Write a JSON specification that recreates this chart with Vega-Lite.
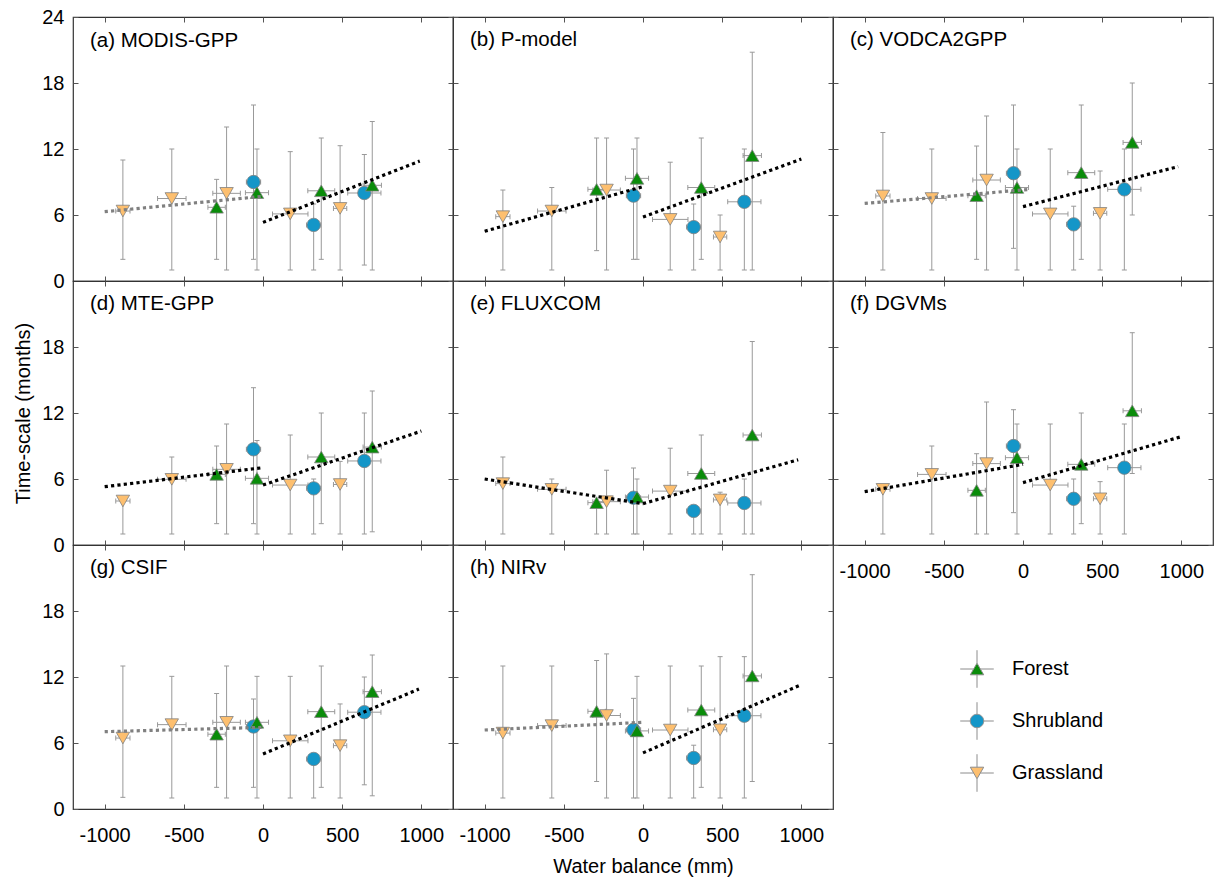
{
  "$schema": "https://vega.github.io/schema/vega-lite/v6.json",
  "padding": {"top": 6, "left": 13, "right": 0, "bottom": 0},
  "background": "white",
  "columns": 3,
  "spacing": 0,
  "bounds": "flush",
  "resolve": {"scale": {"shape": "independent", "fill": "independent"}},
  "config": {
    "font": "Liberation Sans",
    "view": {"stroke": "#333333", "strokeWidth": 1.2},
    "axis": {"domain": false, "grid": false, "tickColor": "#555555", "tickSize": -5, "tickWidth": 1, "labelFontSize": 20, "labelColor": "#000000", "titleFontSize": 20, "titleFontWeight": "normal", "titleColor": "#000000", "labelExpr": "datum.value + ''"},
    "title": {"anchor": "start", "frame": "group", "fontSize": 20.5, "fontWeight": "normal", "color": "#000000", "offset": -34, "dx": 17, "baseline": "alphabetic"}
  },
  "datasets": {
    "pts": [
      {"p": "a", "type": "Shrubland", "x": -60, "xlo": -105, "xhi": -15, "y": 9.0, "ylo": 1.97, "yhi": 16.0},
      {"p": "a", "type": "Shrubland", "x": 320, "xlo": 275, "xhi": 365, "y": 5.1, "ylo": 1.0, "yhi": 7.0},
      {"p": "a", "type": "Shrubland", "x": 640, "xlo": 535, "xhi": 745, "y": 8.0, "ylo": 1.45, "yhi": 11.5},
      {"p": "a", "type": "Forest", "x": -293, "xlo": -348, "xhi": -238, "y": 6.7, "ylo": 1.97, "yhi": 9.24},
      {"p": "a", "type": "Forest", "x": -38, "xlo": -111, "xhi": 35, "y": 8.03, "ylo": 1.0, "yhi": 12.0},
      {"p": "a", "type": "Forest", "x": 368, "xlo": 283, "xhi": 453, "y": 8.2, "ylo": 1.97, "yhi": 13.0},
      {"p": "a", "type": "Forest", "x": 690, "xlo": 632, "xhi": 748, "y": 8.7, "ylo": 1.0, "yhi": 14.5},
      {"p": "a", "type": "Grassland", "x": -885, "xlo": -930, "xhi": -840, "y": 6.36, "ylo": 1.97, "yhi": 11.0},
      {"p": "a", "type": "Grassland", "x": -576, "xlo": -666, "xhi": -486, "y": 7.5, "ylo": 1.0, "yhi": 12.0},
      {"p": "a", "type": "Grassland", "x": -230, "xlo": -317, "xhi": -143, "y": 7.97, "ylo": 1.0, "yhi": 14.0},
      {"p": "a", "type": "Grassland", "x": 172, "xlo": 60, "xhi": 284, "y": 6.1, "ylo": 1.0, "yhi": 11.76},
      {"p": "a", "type": "Grassland", "x": 487, "xlo": 445, "xhi": 529, "y": 6.6, "ylo": 1.0, "yhi": 12.3},

      {"p": "b", "type": "Shrubland", "x": -60, "xlo": -105, "xhi": -15, "y": 7.76, "ylo": 1.97, "yhi": 12.0},
      {"p": "b", "type": "Shrubland", "x": 320, "xlo": 275, "xhi": 365, "y": 4.9, "ylo": 1.0, "yhi": 7.0},
      {"p": "b", "type": "Shrubland", "x": 640, "xlo": 535, "xhi": 745, "y": 7.2, "ylo": 1.0, "yhi": 12.0},
      {"p": "b", "type": "Forest", "x": -293, "xlo": -348, "xhi": -238, "y": 8.33, "ylo": 2.76, "yhi": 13.0},
      {"p": "b", "type": "Forest", "x": -38, "xlo": -111, "xhi": 35, "y": 9.33, "ylo": 1.97, "yhi": 13.0},
      {"p": "b", "type": "Forest", "x": 368, "xlo": 283, "xhi": 453, "y": 8.5, "ylo": 1.97, "yhi": 13.0},
      {"p": "b", "type": "Forest", "x": 690, "xlo": 632, "xhi": 748, "y": 11.4, "ylo": 1.0, "yhi": 20.8},
      {"p": "b", "type": "Grassland", "x": -885, "xlo": -930, "xhi": -840, "y": 5.85, "ylo": 1.0, "yhi": 8.27},
      {"p": "b", "type": "Grassland", "x": -576, "xlo": -666, "xhi": -486, "y": 6.36, "ylo": 1.0, "yhi": 8.5},
      {"p": "b", "type": "Grassland", "x": -230, "xlo": -317, "xhi": -143, "y": 8.27, "ylo": 1.0, "yhi": 13.0},
      {"p": "b", "type": "Grassland", "x": 172, "xlo": 60, "xhi": 284, "y": 5.6, "ylo": 1.0, "yhi": 10.8},
      {"p": "b", "type": "Grassland", "x": 487, "xlo": 445, "xhi": 529, "y": 4.0, "ylo": 1.0, "yhi": 6.0},

      {"p": "c", "type": "Shrubland", "x": -60, "xlo": -105, "xhi": -15, "y": 9.8, "ylo": 2.97, "yhi": 16.0},
      {"p": "c", "type": "Shrubland", "x": 320, "xlo": 275, "xhi": 365, "y": 5.15, "ylo": 1.0, "yhi": 6.8},
      {"p": "c", "type": "Shrubland", "x": 640, "xlo": 535, "xhi": 745, "y": 8.33, "ylo": 1.0, "yhi": 12.0},
      {"p": "c", "type": "Forest", "x": -293, "xlo": -348, "xhi": -238, "y": 7.76, "ylo": 1.97, "yhi": 12.27},
      {"p": "c", "type": "Forest", "x": -38, "xlo": -111, "xhi": 35, "y": 8.5, "ylo": 1.0, "yhi": 12.0},
      {"p": "c", "type": "Forest", "x": 368, "xlo": 283, "xhi": 453, "y": 9.85, "ylo": 1.97, "yhi": 16.0},
      {"p": "c", "type": "Forest", "x": 690, "xlo": 632, "xhi": 748, "y": 12.6, "ylo": 6.0, "yhi": 18.0},
      {"p": "c", "type": "Grassland", "x": -885, "xlo": -930, "xhi": -840, "y": 7.73, "ylo": 1.0, "yhi": 13.5},
      {"p": "c", "type": "Grassland", "x": -576, "xlo": -666, "xhi": -486, "y": 7.5, "ylo": 1.0, "yhi": 12.0},
      {"p": "c", "type": "Grassland", "x": -230, "xlo": -317, "xhi": -143, "y": 9.18, "ylo": 1.0, "yhi": 15.0},
      {"p": "c", "type": "Grassland", "x": 172, "xlo": 60, "xhi": 284, "y": 6.1, "ylo": 1.0, "yhi": 12.0},
      {"p": "c", "type": "Grassland", "x": 487, "xlo": 445, "xhi": 529, "y": 6.15, "ylo": 1.0, "yhi": 10.0},

      {"p": "d", "type": "Shrubland", "x": -60, "xlo": -105, "xhi": -15, "y": 8.7, "ylo": 1.94, "yhi": 14.3},
      {"p": "d", "type": "Shrubland", "x": 320, "xlo": 275, "xhi": 365, "y": 5.15, "ylo": 1.0, "yhi": 6.0},
      {"p": "d", "type": "Shrubland", "x": 640, "xlo": 535, "xhi": 745, "y": 7.64, "ylo": 1.0, "yhi": 12.0},
      {"p": "d", "type": "Forest", "x": -293, "xlo": -348, "xhi": -238, "y": 6.42, "ylo": 1.94, "yhi": 9.0},
      {"p": "d", "type": "Forest", "x": -38, "xlo": -111, "xhi": 35, "y": 6.06, "ylo": 1.0, "yhi": 9.5},
      {"p": "d", "type": "Forest", "x": 368, "xlo": 283, "xhi": 453, "y": 8.0, "ylo": 1.94, "yhi": 12.0},
      {"p": "d", "type": "Forest", "x": 690, "xlo": 632, "xhi": 748, "y": 8.9, "ylo": 1.2, "yhi": 14.0},
      {"p": "d", "type": "Grassland", "x": -885, "xlo": -930, "xhi": -840, "y": 4.0, "ylo": 1.0, "yhi": 4.0},
      {"p": "d", "type": "Grassland", "x": -576, "xlo": -666, "xhi": -486, "y": 5.97, "ylo": 1.0, "yhi": 8.0},
      {"p": "d", "type": "Grassland", "x": -230, "xlo": -317, "xhi": -143, "y": 6.88, "ylo": 1.0, "yhi": 11.0},
      {"p": "d", "type": "Grassland", "x": 172, "xlo": 60, "xhi": 284, "y": 5.45, "ylo": 1.0, "yhi": 10.0},
      {"p": "d", "type": "Grassland", "x": 487, "xlo": 445, "xhi": 529, "y": 5.5, "ylo": 1.0, "yhi": 7.6},

      {"p": "e", "type": "Shrubland", "x": -60, "xlo": -105, "xhi": -15, "y": 4.3, "ylo": 1.0, "yhi": 7.0},
      {"p": "e", "type": "Shrubland", "x": 320, "xlo": 275, "xhi": 365, "y": 3.1, "ylo": 1.0, "yhi": 3.1},
      {"p": "e", "type": "Shrubland", "x": 640, "xlo": 535, "xhi": 745, "y": 3.82, "ylo": 1.0, "yhi": 6.0},
      {"p": "e", "type": "Forest", "x": -293, "xlo": -348, "xhi": -238, "y": 3.85, "ylo": 1.0, "yhi": 3.85},
      {"p": "e", "type": "Forest", "x": -38, "xlo": -111, "xhi": 35, "y": 4.36, "ylo": 1.0, "yhi": 6.0},
      {"p": "e", "type": "Forest", "x": 368, "xlo": 283, "xhi": 453, "y": 6.5, "ylo": 1.0, "yhi": 10.0},
      {"p": "e", "type": "Forest", "x": 690, "xlo": 632, "xhi": 748, "y": 10.0, "ylo": 1.0, "yhi": 18.5},
      {"p": "e", "type": "Grassland", "x": -885, "xlo": -930, "xhi": -840, "y": 5.58, "ylo": 1.0, "yhi": 8.0},
      {"p": "e", "type": "Grassland", "x": -576, "xlo": -666, "xhi": -486, "y": 5.06, "ylo": 1.0, "yhi": 6.0},
      {"p": "e", "type": "Grassland", "x": -230, "xlo": -317, "xhi": -143, "y": 3.94, "ylo": 1.0, "yhi": 6.8},
      {"p": "e", "type": "Grassland", "x": 172, "xlo": 60, "xhi": 284, "y": 4.9, "ylo": 1.0, "yhi": 8.8},
      {"p": "e", "type": "Grassland", "x": 487, "xlo": 445, "xhi": 529, "y": 4.1, "ylo": 1.0, "yhi": 4.8},

      {"p": "f", "type": "Shrubland", "x": -60, "xlo": -105, "xhi": -15, "y": 9.0, "ylo": 2.94, "yhi": 12.3},
      {"p": "f", "type": "Shrubland", "x": 320, "xlo": 275, "xhi": 365, "y": 4.2, "ylo": 1.0, "yhi": 6.0},
      {"p": "f", "type": "Shrubland", "x": 640, "xlo": 535, "xhi": 745, "y": 7.03, "ylo": 1.0, "yhi": 11.0},
      {"p": "f", "type": "Forest", "x": -293, "xlo": -348, "xhi": -238, "y": 4.97, "ylo": 1.0, "yhi": 8.3},
      {"p": "f", "type": "Forest", "x": -38, "xlo": -111, "xhi": 35, "y": 7.94, "ylo": 1.0, "yhi": 11.0},
      {"p": "f", "type": "Forest", "x": 368, "xlo": 283, "xhi": 453, "y": 7.33, "ylo": 1.94, "yhi": 12.0},
      {"p": "f", "type": "Forest", "x": 690, "xlo": 632, "xhi": 748, "y": 12.2, "ylo": 6.5, "yhi": 19.3},
      {"p": "f", "type": "Grassland", "x": -885, "xlo": -930, "xhi": -840, "y": 5.06, "ylo": 1.0, "yhi": 5.06},
      {"p": "f", "type": "Grassland", "x": -576, "xlo": -666, "xhi": -486, "y": 6.42, "ylo": 1.0, "yhi": 9.0},
      {"p": "f", "type": "Grassland", "x": -230, "xlo": -317, "xhi": -143, "y": 7.4, "ylo": 1.0, "yhi": 13.0},
      {"p": "f", "type": "Grassland", "x": 172, "xlo": 60, "xhi": 284, "y": 5.45, "ylo": 1.0, "yhi": 11.0},
      {"p": "f", "type": "Grassland", "x": 487, "xlo": 445, "xhi": 529, "y": 4.2, "ylo": 1.0, "yhi": 5.76},

      {"p": "g", "type": "Shrubland", "x": -60, "xlo": -105, "xhi": -15, "y": 7.5, "ylo": 1.97, "yhi": 10.0},
      {"p": "g", "type": "Shrubland", "x": 320, "xlo": 275, "xhi": 365, "y": 4.55, "ylo": 1.0, "yhi": 4.55},
      {"p": "g", "type": "Shrubland", "x": 640, "xlo": 535, "xhi": 745, "y": 8.8, "ylo": 2.2, "yhi": 12.0},
      {"p": "g", "type": "Forest", "x": -293, "xlo": -348, "xhi": -238, "y": 6.8, "ylo": 1.97, "yhi": 10.5},
      {"p": "g", "type": "Forest", "x": -38, "xlo": -111, "xhi": 35, "y": 7.88, "ylo": 1.0, "yhi": 12.06},
      {"p": "g", "type": "Forest", "x": 368, "xlo": 283, "xhi": 453, "y": 8.85, "ylo": 1.97, "yhi": 13.0},
      {"p": "g", "type": "Forest", "x": 690, "xlo": 632, "xhi": 748, "y": 10.67, "ylo": 1.2, "yhi": 14.0},
      {"p": "g", "type": "Grassland", "x": -885, "xlo": -930, "xhi": -840, "y": 6.45, "ylo": 1.06, "yhi": 13.0},
      {"p": "g", "type": "Grassland", "x": -576, "xlo": -666, "xhi": -486, "y": 7.67, "ylo": 1.0, "yhi": 12.06},
      {"p": "g", "type": "Grassland", "x": -230, "xlo": -317, "xhi": -143, "y": 7.88, "ylo": 1.0, "yhi": 13.0},
      {"p": "g", "type": "Grassland", "x": 172, "xlo": 60, "xhi": 284, "y": 6.2, "ylo": 1.0, "yhi": 12.06},
      {"p": "g", "type": "Grassland", "x": 487, "xlo": 445, "xhi": 529, "y": 5.76, "ylo": 1.0, "yhi": 9.55},

      {"p": "h", "type": "Shrubland", "x": -60, "xlo": -105, "xhi": -15, "y": 7.2, "ylo": 1.0, "yhi": 10.06},
      {"p": "h", "type": "Shrubland", "x": 320, "xlo": 275, "xhi": 365, "y": 4.64, "ylo": 1.0, "yhi": 5.8},
      {"p": "h", "type": "Shrubland", "x": 640, "xlo": 535, "xhi": 745, "y": 8.48, "ylo": 1.0, "yhi": 13.85},
      {"p": "h", "type": "Forest", "x": -293, "xlo": -348, "xhi": -238, "y": 8.88, "ylo": 2.5, "yhi": 13.5},
      {"p": "h", "type": "Forest", "x": -38, "xlo": -111, "xhi": 35, "y": 7.1, "ylo": 1.0, "yhi": 12.06},
      {"p": "h", "type": "Forest", "x": 368, "xlo": 283, "xhi": 453, "y": 9.0, "ylo": 1.97, "yhi": 13.0},
      {"p": "h", "type": "Forest", "x": 690, "xlo": 632, "xhi": 748, "y": 12.1, "ylo": 2.5, "yhi": 21.3},
      {"p": "h", "type": "Grassland", "x": -885, "xlo": -930, "xhi": -840, "y": 6.9, "ylo": 1.0, "yhi": 13.0},
      {"p": "h", "type": "Grassland", "x": -576, "xlo": -666, "xhi": -486, "y": 7.58, "ylo": 1.0, "yhi": 13.0},
      {"p": "h", "type": "Grassland", "x": -230, "xlo": -317, "xhi": -143, "y": 8.5, "ylo": 1.0, "yhi": 14.1},
      {"p": "h", "type": "Grassland", "x": 172, "xlo": 60, "xhi": 284, "y": 7.18, "ylo": 1.0, "yhi": 13.0},
      {"p": "h", "type": "Grassland", "x": 487, "xlo": 445, "xhi": 529, "y": 7.2, "ylo": 1.0, "yhi": 13.85}
    ],
    "fits": [
      {"p": "a", "seg": "L", "sig": "no", "x": -1000, "y": 6.3}, {"p": "a", "seg": "L", "sig": "no", "x": 0, "y": 7.7},
      {"p": "a", "seg": "R", "sig": "yes", "x": 0, "y": 5.33}, {"p": "a", "seg": "R", "sig": "yes", "x": 990, "y": 10.9},
      {"p": "b", "seg": "L", "sig": "yes", "x": -1000, "y": 4.52}, {"p": "b", "seg": "L", "sig": "yes", "x": 0, "y": 8.58},
      {"p": "b", "seg": "R", "sig": "yes", "x": 0, "y": 5.82}, {"p": "b", "seg": "R", "sig": "yes", "x": 1000, "y": 11.08},
      {"p": "c", "seg": "L", "sig": "no", "x": -1000, "y": 7.05}, {"p": "c", "seg": "L", "sig": "no", "x": 40, "y": 8.33},
      {"p": "c", "seg": "R", "sig": "yes", "x": 0, "y": 6.76}, {"p": "c", "seg": "R", "sig": "yes", "x": 980, "y": 10.4},
      {"p": "d", "seg": "L", "sig": "yes", "x": -1000, "y": 5.3}, {"p": "d", "seg": "L", "sig": "yes", "x": 0, "y": 7.03},
      {"p": "d", "seg": "R", "sig": "yes", "x": 0, "y": 5.45}, {"p": "d", "seg": "R", "sig": "yes", "x": 1000, "y": 10.36},
      {"p": "e", "seg": "L", "sig": "yes", "x": -1000, "y": 6.0}, {"p": "e", "seg": "L", "sig": "yes", "x": 0, "y": 3.76},
      {"p": "e", "seg": "R", "sig": "yes", "x": 0, "y": 3.76}, {"p": "e", "seg": "R", "sig": "yes", "x": 980, "y": 7.75},
      {"p": "f", "seg": "L", "sig": "yes", "x": -1000, "y": 4.85}, {"p": "f", "seg": "L", "sig": "yes", "x": 0, "y": 7.33},
      {"p": "f", "seg": "R", "sig": "yes", "x": 0, "y": 5.67}, {"p": "f", "seg": "R", "sig": "yes", "x": 1000, "y": 9.85},
      {"p": "g", "seg": "L", "sig": "no", "x": -1000, "y": 7.03}, {"p": "g", "seg": "L", "sig": "no", "x": 0, "y": 7.42},
      {"p": "g", "seg": "R", "sig": "yes", "x": 0, "y": 5.0}, {"p": "g", "seg": "R", "sig": "yes", "x": 985, "y": 10.9},
      {"p": "h", "seg": "L", "sig": "no", "x": -1000, "y": 7.18}, {"p": "h", "seg": "L", "sig": "no", "x": 0, "y": 7.88},
      {"p": "h", "seg": "R", "sig": "yes", "x": 0, "y": 5.1}, {"p": "h", "seg": "R", "sig": "yes", "x": 1000, "y": 11.3}
    ]
  },
  "concat": [
    {
      "width": 380, "height": 264, "title": {"text": "(a) MODIS-GPP", "offset": -44},
      "resolve": {"axis": {"x": "independent", "y": "independent"}},
      "layer": [
        {"data": {"name": "pts"}, "transform": [{"filter": "datum.p == 'a'"}], "mark": {"type": "rule", "color": "#999999", "strokeWidth": 1},
         "encoding": {"x": {"field": "x", "type": "quantitative", "scale": {"domain": [-1200, 1200], "nice": false}, "axis": {"orient": "bottom", "values": [-1000, -500, 0, 500, 1000], "labels": false, "title": null}},
                      "y": {"field": "ylo", "type": "quantitative", "scale": {"domain": [0, 24], "nice": false}, "axis": {"orient": "left", "values": [0, 6, 12, 18, 24], "title": null, "labelPadding": 14}},
                      "y2": {"field": "yhi"}}},
        {"data": {"name": "pts"}, "transform": [{"filter": "datum.p == 'a'"}], "mark": {"type": "rule", "color": "#999999", "strokeWidth": 1},
         "encoding": {"x": {"field": "xlo", "type": "quantitative", "axis": {"orient": "top", "values": [-1000, -500, 0, 500, 1000], "labels": false, "title": null}},
                      "x2": {"field": "xhi"},
                      "y": {"field": "y", "type": "quantitative", "axis": {"orient": "right", "values": [0, 6, 12, 18, 24], "labels": false, "title": null}}}},
        {"data": {"name": "pts"}, "transform": [{"filter": "datum.p == 'a'"}, {"fold": ["ylo", "yhi"], "as": ["end", "yv"]}], "mark": {"type": "tick", "orient": "horizontal", "size": 5, "thickness": 1, "color": "#999999", "opacity": 1},
         "encoding": {"x": {"field": "x", "type": "quantitative", "axis": null}, "y": {"field": "yv", "type": "quantitative", "axis": null}}},
        {"data": {"name": "pts"}, "transform": [{"filter": "datum.p == 'a'"}, {"fold": ["xlo", "xhi"], "as": ["end", "xv"]}], "mark": {"type": "tick", "orient": "vertical", "size": 5, "thickness": 1, "color": "#999999", "opacity": 1},
         "encoding": {"x": {"field": "xv", "type": "quantitative", "axis": null}, "y": {"field": "y", "type": "quantitative", "axis": null}}},
        {"data": {"name": "pts"}, "transform": [{"filter": "datum.p == 'a'"}], "mark": {"type": "point", "filled": true, "opacity": 1, "size": 180, "stroke": "#808080", "strokeWidth": 0.8},
         "encoding": {"x": {"field": "x", "type": "quantitative", "axis": null}, "y": {"field": "y", "type": "quantitative", "axis": null},
                      "shape": {"field": "type", "type": "nominal", "scale": {"domain": ["Forest", "Shrubland", "Grassland"], "range": ["triangle-up", "circle", "triangle-down"]}, "legend": null},
                      "fill": {"field": "type", "type": "nominal", "scale": {"domain": ["Forest", "Shrubland", "Grassland"], "range": ["#0a8c0a", "#1496c8", "#fdbf6f"]}, "legend": null}}},
        {"data": {"name": "fits"}, "transform": [{"filter": "datum.p == 'a'"}], "mark": {"type": "line", "strokeWidth": 3.2, "strokeDash": [3.2, 3.2], "strokeCap": "butt"},
         "encoding": {"x": {"field": "x", "type": "quantitative", "axis": null}, "y": {"field": "y", "type": "quantitative", "axis": null}, "detail": {"field": "seg"},
                      "stroke": {"field": "sig", "type": "nominal", "scale": {"domain": ["yes", "no"], "range": ["#000000", "#808080"]}, "legend": null}}}
      ]
    },
    {
      "width": 380, "height": 264, "title": "(b) P-model",
      "resolve": {"axis": {"x": "independent", "y": "independent"}},
      "layer": [
        {"data": {"name": "pts"}, "transform": [{"filter": "datum.p == 'b'"}], "mark": {"type": "rule", "color": "#999999", "strokeWidth": 1},
         "encoding": {"x": {"field": "x", "type": "quantitative", "scale": {"domain": [-1200, 1200], "nice": false}, "axis": {"orient": "bottom", "values": [-1000, -500, 0, 500, 1000], "labels": false, "title": null}},
                      "y": {"field": "ylo", "type": "quantitative", "scale": {"domain": [0, 24], "nice": false}, "axis": {"orient": "left", "values": [0, 6, 12, 18, 24], "labels": false, "title": null}},
                      "y2": {"field": "yhi"}}},
        {"data": {"name": "pts"}, "transform": [{"filter": "datum.p == 'b'"}], "mark": {"type": "rule", "color": "#999999", "strokeWidth": 1},
         "encoding": {"x": {"field": "xlo", "type": "quantitative", "axis": {"orient": "top", "values": [-1000, -500, 0, 500, 1000], "labels": false, "title": null}},
                      "x2": {"field": "xhi"},
                      "y": {"field": "y", "type": "quantitative", "axis": {"orient": "right", "values": [0, 6, 12, 18, 24], "labels": false, "title": null}}}},
        {"data": {"name": "pts"}, "transform": [{"filter": "datum.p == 'b'"}, {"fold": ["ylo", "yhi"], "as": ["end", "yv"]}], "mark": {"type": "tick", "orient": "horizontal", "size": 5, "thickness": 1, "color": "#999999", "opacity": 1},
         "encoding": {"x": {"field": "x", "type": "quantitative", "axis": null}, "y": {"field": "yv", "type": "quantitative", "axis": null}}},
        {"data": {"name": "pts"}, "transform": [{"filter": "datum.p == 'b'"}, {"fold": ["xlo", "xhi"], "as": ["end", "xv"]}], "mark": {"type": "tick", "orient": "vertical", "size": 5, "thickness": 1, "color": "#999999", "opacity": 1},
         "encoding": {"x": {"field": "xv", "type": "quantitative", "axis": null}, "y": {"field": "y", "type": "quantitative", "axis": null}}},
        {"data": {"name": "pts"}, "transform": [{"filter": "datum.p == 'b'"}], "mark": {"type": "point", "filled": true, "opacity": 1, "size": 180, "stroke": "#808080", "strokeWidth": 0.8},
         "encoding": {"x": {"field": "x", "type": "quantitative", "axis": null}, "y": {"field": "y", "type": "quantitative", "axis": null},
                      "shape": {"field": "type", "type": "nominal", "scale": {"domain": ["Forest", "Shrubland", "Grassland"], "range": ["triangle-up", "circle", "triangle-down"]}, "legend": null},
                      "fill": {"field": "type", "type": "nominal", "scale": {"domain": ["Forest", "Shrubland", "Grassland"], "range": ["#0a8c0a", "#1496c8", "#fdbf6f"]}, "legend": null}}},
        {"data": {"name": "fits"}, "transform": [{"filter": "datum.p == 'b'"}], "mark": {"type": "line", "strokeWidth": 3.2, "strokeDash": [3.2, 3.2], "strokeCap": "butt"},
         "encoding": {"x": {"field": "x", "type": "quantitative", "axis": null}, "y": {"field": "y", "type": "quantitative", "axis": null}, "detail": {"field": "seg"},
                      "stroke": {"field": "sig", "type": "nominal", "scale": {"domain": ["yes", "no"], "range": ["#000000", "#808080"]}, "legend": null}}}
      ]
    },
    {
      "width": 380, "height": 264, "title": "(c) VODCA2GPP",
      "resolve": {"axis": {"x": "independent", "y": "independent"}},
      "layer": [
        {"data": {"name": "pts"}, "transform": [{"filter": "datum.p == 'c'"}], "mark": {"type": "rule", "color": "#999999", "strokeWidth": 1},
         "encoding": {"x": {"field": "x", "type": "quantitative", "scale": {"domain": [-1200, 1200], "nice": false}, "axis": {"orient": "bottom", "values": [-1000, -500, 0, 500, 1000], "labels": false, "title": null}},
                      "y": {"field": "ylo", "type": "quantitative", "scale": {"domain": [0, 24], "nice": false}, "axis": {"orient": "left", "values": [0, 6, 12, 18, 24], "labels": false, "title": null}},
                      "y2": {"field": "yhi"}}},
        {"data": {"name": "pts"}, "transform": [{"filter": "datum.p == 'c'"}], "mark": {"type": "rule", "color": "#999999", "strokeWidth": 1},
         "encoding": {"x": {"field": "xlo", "type": "quantitative", "axis": {"orient": "top", "values": [-1000, -500, 0, 500, 1000], "labels": false, "title": null}},
                      "x2": {"field": "xhi"},
                      "y": {"field": "y", "type": "quantitative", "axis": {"orient": "right", "values": [0, 6, 12, 18, 24], "labels": false, "title": null}}}},
        {"data": {"name": "pts"}, "transform": [{"filter": "datum.p == 'c'"}, {"fold": ["ylo", "yhi"], "as": ["end", "yv"]}], "mark": {"type": "tick", "orient": "horizontal", "size": 5, "thickness": 1, "color": "#999999", "opacity": 1},
         "encoding": {"x": {"field": "x", "type": "quantitative", "axis": null}, "y": {"field": "yv", "type": "quantitative", "axis": null}}},
        {"data": {"name": "pts"}, "transform": [{"filter": "datum.p == 'c'"}, {"fold": ["xlo", "xhi"], "as": ["end", "xv"]}], "mark": {"type": "tick", "orient": "vertical", "size": 5, "thickness": 1, "color": "#999999", "opacity": 1},
         "encoding": {"x": {"field": "xv", "type": "quantitative", "axis": null}, "y": {"field": "y", "type": "quantitative", "axis": null}}},
        {"data": {"name": "pts"}, "transform": [{"filter": "datum.p == 'c'"}], "mark": {"type": "point", "filled": true, "opacity": 1, "size": 180, "stroke": "#808080", "strokeWidth": 0.8},
         "encoding": {"x": {"field": "x", "type": "quantitative", "axis": null}, "y": {"field": "y", "type": "quantitative", "axis": null},
                      "shape": {"field": "type", "type": "nominal", "scale": {"domain": ["Forest", "Shrubland", "Grassland"], "range": ["triangle-up", "circle", "triangle-down"]}, "legend": null},
                      "fill": {"field": "type", "type": "nominal", "scale": {"domain": ["Forest", "Shrubland", "Grassland"], "range": ["#0a8c0a", "#1496c8", "#fdbf6f"]}, "legend": null}}},
        {"data": {"name": "fits"}, "transform": [{"filter": "datum.p == 'c'"}], "mark": {"type": "line", "strokeWidth": 3.2, "strokeDash": [3.2, 3.2], "strokeCap": "butt"},
         "encoding": {"x": {"field": "x", "type": "quantitative", "axis": null}, "y": {"field": "y", "type": "quantitative", "axis": null}, "detail": {"field": "seg"},
                      "stroke": {"field": "sig", "type": "nominal", "scale": {"domain": ["yes", "no"], "range": ["#000000", "#808080"]}, "legend": null}}}
      ]
    },
    {
      "width": 380, "height": 264, "title": "(d) MTE-GPP",
      "resolve": {"axis": {"x": "independent", "y": "independent"}},
      "layer": [
        {"data": {"name": "pts"}, "transform": [{"filter": "datum.p == 'd'"}], "mark": {"type": "rule", "color": "#999999", "strokeWidth": 1},
         "encoding": {"x": {"field": "x", "type": "quantitative", "scale": {"domain": [-1200, 1200], "nice": false}, "axis": {"orient": "bottom", "values": [-1000, -500, 0, 500, 1000], "labels": false, "title": null}},
                      "y": {"field": "ylo", "type": "quantitative", "scale": {"domain": [0, 24], "nice": false}, "axis": {"orient": "left", "values": [0, 6, 12, 18], "title": "Time-scale (months)", "labelPadding": 14, "titlePadding": 8}},
                      "y2": {"field": "yhi"}}},
        {"data": {"name": "pts"}, "transform": [{"filter": "datum.p == 'd'"}], "mark": {"type": "rule", "color": "#999999", "strokeWidth": 1},
         "encoding": {"x": {"field": "xlo", "type": "quantitative", "axis": {"orient": "top", "values": [-1000, -500, 0, 500, 1000], "labels": false, "title": null}},
                      "x2": {"field": "xhi"},
                      "y": {"field": "y", "type": "quantitative", "axis": {"orient": "right", "values": [0, 6, 12, 18, 24], "labels": false, "title": null}}}},
        {"data": {"name": "pts"}, "transform": [{"filter": "datum.p == 'd'"}, {"fold": ["ylo", "yhi"], "as": ["end", "yv"]}], "mark": {"type": "tick", "orient": "horizontal", "size": 5, "thickness": 1, "color": "#999999", "opacity": 1},
         "encoding": {"x": {"field": "x", "type": "quantitative", "axis": null}, "y": {"field": "yv", "type": "quantitative", "axis": null}}},
        {"data": {"name": "pts"}, "transform": [{"filter": "datum.p == 'd'"}, {"fold": ["xlo", "xhi"], "as": ["end", "xv"]}], "mark": {"type": "tick", "orient": "vertical", "size": 5, "thickness": 1, "color": "#999999", "opacity": 1},
         "encoding": {"x": {"field": "xv", "type": "quantitative", "axis": null}, "y": {"field": "y", "type": "quantitative", "axis": null}}},
        {"data": {"name": "pts"}, "transform": [{"filter": "datum.p == 'd'"}], "mark": {"type": "point", "filled": true, "opacity": 1, "size": 180, "stroke": "#808080", "strokeWidth": 0.8},
         "encoding": {"x": {"field": "x", "type": "quantitative", "axis": null}, "y": {"field": "y", "type": "quantitative", "axis": null},
                      "shape": {"field": "type", "type": "nominal", "scale": {"domain": ["Forest", "Shrubland", "Grassland"], "range": ["triangle-up", "circle", "triangle-down"]}, "legend": null},
                      "fill": {"field": "type", "type": "nominal", "scale": {"domain": ["Forest", "Shrubland", "Grassland"], "range": ["#0a8c0a", "#1496c8", "#fdbf6f"]}, "legend": null}}},
        {"data": {"name": "fits"}, "transform": [{"filter": "datum.p == 'd'"}], "mark": {"type": "line", "strokeWidth": 3.2, "strokeDash": [3.2, 3.2], "strokeCap": "butt"},
         "encoding": {"x": {"field": "x", "type": "quantitative", "axis": null}, "y": {"field": "y", "type": "quantitative", "axis": null}, "detail": {"field": "seg"},
                      "stroke": {"field": "sig", "type": "nominal", "scale": {"domain": ["yes", "no"], "range": ["#000000", "#808080"]}, "legend": null}}}
      ]
    },
    {
      "width": 380, "height": 264, "title": "(e) FLUXCOM",
      "resolve": {"axis": {"x": "independent", "y": "independent"}},
      "layer": [
        {"data": {"name": "pts"}, "transform": [{"filter": "datum.p == 'e'"}], "mark": {"type": "rule", "color": "#999999", "strokeWidth": 1},
         "encoding": {"x": {"field": "x", "type": "quantitative", "scale": {"domain": [-1200, 1200], "nice": false}, "axis": {"orient": "bottom", "values": [-1000, -500, 0, 500, 1000], "labels": false, "title": null}},
                      "y": {"field": "ylo", "type": "quantitative", "scale": {"domain": [0, 24], "nice": false}, "axis": {"orient": "left", "values": [0, 6, 12, 18, 24], "labels": false, "title": null}},
                      "y2": {"field": "yhi"}}},
        {"data": {"name": "pts"}, "transform": [{"filter": "datum.p == 'e'"}], "mark": {"type": "rule", "color": "#999999", "strokeWidth": 1},
         "encoding": {"x": {"field": "xlo", "type": "quantitative", "axis": {"orient": "top", "values": [-1000, -500, 0, 500, 1000], "labels": false, "title": null}},
                      "x2": {"field": "xhi"},
                      "y": {"field": "y", "type": "quantitative", "axis": {"orient": "right", "values": [0, 6, 12, 18, 24], "labels": false, "title": null}}}},
        {"data": {"name": "pts"}, "transform": [{"filter": "datum.p == 'e'"}, {"fold": ["ylo", "yhi"], "as": ["end", "yv"]}], "mark": {"type": "tick", "orient": "horizontal", "size": 5, "thickness": 1, "color": "#999999", "opacity": 1},
         "encoding": {"x": {"field": "x", "type": "quantitative", "axis": null}, "y": {"field": "yv", "type": "quantitative", "axis": null}}},
        {"data": {"name": "pts"}, "transform": [{"filter": "datum.p == 'e'"}, {"fold": ["xlo", "xhi"], "as": ["end", "xv"]}], "mark": {"type": "tick", "orient": "vertical", "size": 5, "thickness": 1, "color": "#999999", "opacity": 1},
         "encoding": {"x": {"field": "xv", "type": "quantitative", "axis": null}, "y": {"field": "y", "type": "quantitative", "axis": null}}},
        {"data": {"name": "pts"}, "transform": [{"filter": "datum.p == 'e'"}], "mark": {"type": "point", "filled": true, "opacity": 1, "size": 180, "stroke": "#808080", "strokeWidth": 0.8},
         "encoding": {"x": {"field": "x", "type": "quantitative", "axis": null}, "y": {"field": "y", "type": "quantitative", "axis": null},
                      "shape": {"field": "type", "type": "nominal", "scale": {"domain": ["Forest", "Shrubland", "Grassland"], "range": ["triangle-up", "circle", "triangle-down"]}, "legend": null},
                      "fill": {"field": "type", "type": "nominal", "scale": {"domain": ["Forest", "Shrubland", "Grassland"], "range": ["#0a8c0a", "#1496c8", "#fdbf6f"]}, "legend": null}}},
        {"data": {"name": "fits"}, "transform": [{"filter": "datum.p == 'e'"}], "mark": {"type": "line", "strokeWidth": 3.2, "strokeDash": [3.2, 3.2], "strokeCap": "butt"},
         "encoding": {"x": {"field": "x", "type": "quantitative", "axis": null}, "y": {"field": "y", "type": "quantitative", "axis": null}, "detail": {"field": "seg"},
                      "stroke": {"field": "sig", "type": "nominal", "scale": {"domain": ["yes", "no"], "range": ["#000000", "#808080"]}, "legend": null}}}
      ]
    },
    {
      "width": 380, "height": 264, "title": "(f) DGVMs",
      "resolve": {"axis": {"x": "independent", "y": "independent"}},
      "layer": [
        {"data": {"name": "pts"}, "transform": [{"filter": "datum.p == 'f'"}], "mark": {"type": "rule", "color": "#999999", "strokeWidth": 1},
         "encoding": {"x": {"field": "x", "type": "quantitative", "scale": {"domain": [-1200, 1200], "nice": false}, "axis": {"orient": "bottom", "values": [-1000, -500, 0, 500, 1000], "title": null, "labelPadding": 21}},
                      "y": {"field": "ylo", "type": "quantitative", "scale": {"domain": [0, 24], "nice": false}, "axis": {"orient": "left", "values": [0, 6, 12, 18, 24], "labels": false, "title": null}},
                      "y2": {"field": "yhi"}}},
        {"data": {"name": "pts"}, "transform": [{"filter": "datum.p == 'f'"}], "mark": {"type": "rule", "color": "#999999", "strokeWidth": 1},
         "encoding": {"x": {"field": "xlo", "type": "quantitative", "axis": {"orient": "top", "values": [-1000, -500, 0, 500, 1000], "labels": false, "title": null}},
                      "x2": {"field": "xhi"},
                      "y": {"field": "y", "type": "quantitative", "axis": {"orient": "right", "values": [0, 6, 12, 18, 24], "labels": false, "title": null}}}},
        {"data": {"name": "pts"}, "transform": [{"filter": "datum.p == 'f'"}, {"fold": ["ylo", "yhi"], "as": ["end", "yv"]}], "mark": {"type": "tick", "orient": "horizontal", "size": 5, "thickness": 1, "color": "#999999", "opacity": 1},
         "encoding": {"x": {"field": "x", "type": "quantitative", "axis": null}, "y": {"field": "yv", "type": "quantitative", "axis": null}}},
        {"data": {"name": "pts"}, "transform": [{"filter": "datum.p == 'f'"}, {"fold": ["xlo", "xhi"], "as": ["end", "xv"]}], "mark": {"type": "tick", "orient": "vertical", "size": 5, "thickness": 1, "color": "#999999", "opacity": 1},
         "encoding": {"x": {"field": "xv", "type": "quantitative", "axis": null}, "y": {"field": "y", "type": "quantitative", "axis": null}}},
        {"data": {"name": "pts"}, "transform": [{"filter": "datum.p == 'f'"}], "mark": {"type": "point", "filled": true, "opacity": 1, "size": 180, "stroke": "#808080", "strokeWidth": 0.8},
         "encoding": {"x": {"field": "x", "type": "quantitative", "axis": null}, "y": {"field": "y", "type": "quantitative", "axis": null},
                      "shape": {"field": "type", "type": "nominal", "scale": {"domain": ["Forest", "Shrubland", "Grassland"], "range": ["triangle-up", "circle", "triangle-down"]}, "legend": null},
                      "fill": {"field": "type", "type": "nominal", "scale": {"domain": ["Forest", "Shrubland", "Grassland"], "range": ["#0a8c0a", "#1496c8", "#fdbf6f"]}, "legend": null}}},
        {"data": {"name": "fits"}, "transform": [{"filter": "datum.p == 'f'"}], "mark": {"type": "line", "strokeWidth": 3.2, "strokeDash": [3.2, 3.2], "strokeCap": "butt"},
         "encoding": {"x": {"field": "x", "type": "quantitative", "axis": null}, "y": {"field": "y", "type": "quantitative", "axis": null}, "detail": {"field": "seg"},
                      "stroke": {"field": "sig", "type": "nominal", "scale": {"domain": ["yes", "no"], "range": ["#000000", "#808080"]}, "legend": null}}}
      ]
    },
    {
      "width": 380, "height": 264, "title": "(g) CSIF",
      "resolve": {"axis": {"x": "independent", "y": "independent"}},
      "layer": [
        {"data": {"name": "pts"}, "transform": [{"filter": "datum.p == 'g'"}], "mark": {"type": "rule", "color": "#999999", "strokeWidth": 1},
         "encoding": {"x": {"field": "x", "type": "quantitative", "scale": {"domain": [-1200, 1200], "nice": false}, "axis": {"orient": "bottom", "values": [-1000, -500, 0, 500, 1000], "title": null, "labelPadding": 21}},
                      "y": {"field": "ylo", "type": "quantitative", "scale": {"domain": [0, 24], "nice": false}, "axis": {"orient": "left", "values": [0, 6, 12, 18], "title": null, "labelPadding": 14}},
                      "y2": {"field": "yhi"}}},
        {"data": {"name": "pts"}, "transform": [{"filter": "datum.p == 'g'"}], "mark": {"type": "rule", "color": "#999999", "strokeWidth": 1},
         "encoding": {"x": {"field": "xlo", "type": "quantitative", "axis": {"orient": "top", "values": [-1000, -500, 0, 500, 1000], "labels": false, "title": null}},
                      "x2": {"field": "xhi"},
                      "y": {"field": "y", "type": "quantitative", "axis": {"orient": "right", "values": [0, 6, 12, 18, 24], "labels": false, "title": null}}}},
        {"data": {"name": "pts"}, "transform": [{"filter": "datum.p == 'g'"}, {"fold": ["ylo", "yhi"], "as": ["end", "yv"]}], "mark": {"type": "tick", "orient": "horizontal", "size": 5, "thickness": 1, "color": "#999999", "opacity": 1},
         "encoding": {"x": {"field": "x", "type": "quantitative", "axis": null}, "y": {"field": "yv", "type": "quantitative", "axis": null}}},
        {"data": {"name": "pts"}, "transform": [{"filter": "datum.p == 'g'"}, {"fold": ["xlo", "xhi"], "as": ["end", "xv"]}], "mark": {"type": "tick", "orient": "vertical", "size": 5, "thickness": 1, "color": "#999999", "opacity": 1},
         "encoding": {"x": {"field": "xv", "type": "quantitative", "axis": null}, "y": {"field": "y", "type": "quantitative", "axis": null}}},
        {"data": {"name": "pts"}, "transform": [{"filter": "datum.p == 'g'"}], "mark": {"type": "point", "filled": true, "opacity": 1, "size": 180, "stroke": "#808080", "strokeWidth": 0.8},
         "encoding": {"x": {"field": "x", "type": "quantitative", "axis": null}, "y": {"field": "y", "type": "quantitative", "axis": null},
                      "shape": {"field": "type", "type": "nominal", "scale": {"domain": ["Forest", "Shrubland", "Grassland"], "range": ["triangle-up", "circle", "triangle-down"]}, "legend": null},
                      "fill": {"field": "type", "type": "nominal", "scale": {"domain": ["Forest", "Shrubland", "Grassland"], "range": ["#0a8c0a", "#1496c8", "#fdbf6f"]}, "legend": null}}},
        {"data": {"name": "fits"}, "transform": [{"filter": "datum.p == 'g'"}], "mark": {"type": "line", "strokeWidth": 3.2, "strokeDash": [3.2, 3.2], "strokeCap": "butt"},
         "encoding": {"x": {"field": "x", "type": "quantitative", "axis": null}, "y": {"field": "y", "type": "quantitative", "axis": null}, "detail": {"field": "seg"},
                      "stroke": {"field": "sig", "type": "nominal", "scale": {"domain": ["yes", "no"], "range": ["#000000", "#808080"]}, "legend": null}}}
      ]
    },
    {
      "width": 380, "height": 264, "title": "(h) NIRv",
      "resolve": {"axis": {"x": "independent", "y": "independent"}},
      "layer": [
        {"data": {"name": "pts"}, "transform": [{"filter": "datum.p == 'h'"}], "mark": {"type": "rule", "color": "#999999", "strokeWidth": 1},
         "encoding": {"x": {"field": "x", "type": "quantitative", "scale": {"domain": [-1200, 1200], "nice": false}, "axis": {"orient": "bottom", "values": [-1000, -500, 0, 500, 1000], "title": "Water balance (mm)", "labelPadding": 21, "titlePadding": 11}},
                      "y": {"field": "ylo", "type": "quantitative", "scale": {"domain": [0, 24], "nice": false}, "axis": {"orient": "left", "values": [0, 6, 12, 18, 24], "labels": false, "title": null}},
                      "y2": {"field": "yhi"}}},
        {"data": {"name": "pts"}, "transform": [{"filter": "datum.p == 'h'"}], "mark": {"type": "rule", "color": "#999999", "strokeWidth": 1},
         "encoding": {"x": {"field": "xlo", "type": "quantitative", "axis": {"orient": "top", "values": [-1000, -500, 0, 500, 1000], "labels": false, "title": null}},
                      "x2": {"field": "xhi"},
                      "y": {"field": "y", "type": "quantitative", "axis": {"orient": "right", "values": [0, 6, 12, 18, 24], "labels": false, "title": null}}}},
        {"data": {"name": "pts"}, "transform": [{"filter": "datum.p == 'h'"}, {"fold": ["ylo", "yhi"], "as": ["end", "yv"]}], "mark": {"type": "tick", "orient": "horizontal", "size": 5, "thickness": 1, "color": "#999999", "opacity": 1},
         "encoding": {"x": {"field": "x", "type": "quantitative", "axis": null}, "y": {"field": "yv", "type": "quantitative", "axis": null}}},
        {"data": {"name": "pts"}, "transform": [{"filter": "datum.p == 'h'"}, {"fold": ["xlo", "xhi"], "as": ["end", "xv"]}], "mark": {"type": "tick", "orient": "vertical", "size": 5, "thickness": 1, "color": "#999999", "opacity": 1},
         "encoding": {"x": {"field": "xv", "type": "quantitative", "axis": null}, "y": {"field": "y", "type": "quantitative", "axis": null}}},
        {"data": {"name": "pts"}, "transform": [{"filter": "datum.p == 'h'"}], "mark": {"type": "point", "filled": true, "opacity": 1, "size": 180, "stroke": "#808080", "strokeWidth": 0.8},
         "encoding": {"x": {"field": "x", "type": "quantitative", "axis": null}, "y": {"field": "y", "type": "quantitative", "axis": null},
                      "shape": {"field": "type", "type": "nominal", "scale": {"domain": ["Forest", "Shrubland", "Grassland"], "range": ["triangle-up", "circle", "triangle-down"]}, "legend": null},
                      "fill": {"field": "type", "type": "nominal", "scale": {"domain": ["Forest", "Shrubland", "Grassland"], "range": ["#0a8c0a", "#1496c8", "#fdbf6f"]}, "legend": null}}},
        {"data": {"name": "fits"}, "transform": [{"filter": "datum.p == 'h'"}], "mark": {"type": "line", "strokeWidth": 3.2, "strokeDash": [3.2, 3.2], "strokeCap": "butt"},
         "encoding": {"x": {"field": "x", "type": "quantitative", "axis": null}, "y": {"field": "y", "type": "quantitative", "axis": null}, "detail": {"field": "seg"},
                      "stroke": {"field": "sig", "type": "nominal", "scale": {"domain": ["yes", "no"], "range": ["#000000", "#808080"]}, "legend": null}}}
      ]
    },
    {
      "width": 380, "height": 264,
      "view": {"stroke": null},
      "data": {"name": "pts"},
      "transform": [{"filter": "datum.p == 'legend'"}],
      "mark": {"type": "point", "filled": false, "opacity": 1, "stroke": "#8c8c8c", "strokeWidth": 1},
      "encoding": {
        "shape": {"field": "type", "type": "nominal",
                  "scale": {"domain": ["Forest", "Shrubland", "Grassland"], "range": [
                    "M0,-0.866L1,0.866L-1,0.866ZM0,-0.866L0,-2.8M0,0.866L0,2.8M-0.5,0L-2.5,0M0.5,0L2.5,0",
                    "M1,0A1,1,0,1,1,-1,0A1,1,0,1,1,1,0ZM0,-1L0,-2.8M0,1L0,2.8M-1,0L-2.5,0M1,0L2.5,0",
                    "M0,0.866L1,-0.866L-1,-0.866ZM0,0.866L0,2.8M0,-0.866L0,-2.8M-0.5,0L-2.5,0M0.5,0L2.5,0"]},
                  "legend": {"title": null, "orient": "none", "legendX": 134, "legendY": 114, "symbolSize": 180, "labelFontSize": 20, "labelColor": "#000000", "labelOffset": 25, "rowPadding": 10, "symbolStrokeWidth": 1, "symbolOpacity": 1}},
        "fill": {"field": "type", "type": "nominal",
                 "scale": {"domain": ["Forest", "Shrubland", "Grassland"], "range": ["#0a8c0a", "#1496c8", "#fdbf6f"]},
                 "legend": {"title": null, "orient": "none", "legendX": 134, "legendY": 114, "symbolSize": 180, "labelFontSize": 20, "labelColor": "#000000", "labelOffset": 25, "rowPadding": 10, "symbolStrokeWidth": 1, "symbolOpacity": 1}}
      }
    }
  ]
}
